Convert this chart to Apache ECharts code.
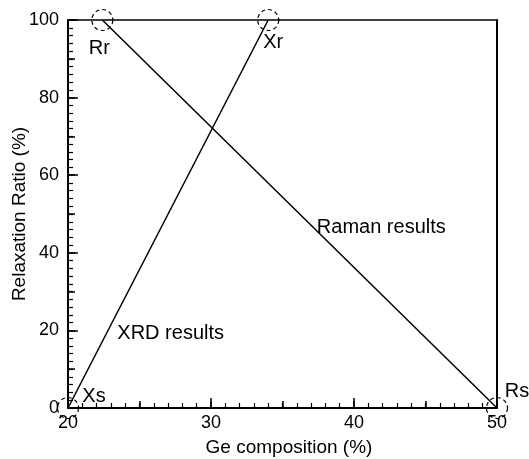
<!DOCTYPE html>
<html><head><meta charset="utf-8">
<script src="https://cdn.jsdelivr.net/npm/echarts@6/dist/echarts.min.js"></script>
<style>html,body{margin:0;padding:0;background:#fff}#c{width:529px;height:459px}</style>
</head><body><div id="c"></div>
<script>
// ---- data ----
const xTickMin = 20, xTickMax = 50, xTickStep = 10;
const yTickMin = 0, yTickMax = 100, yTickStep = 20;
const ramanX = [22.4, 50];
const ramanY = [100, 0];
const xrdX = [20, 34];
const xrdY = [0, 100];
const pointNames = ['Rr', 'Xr', 'Xs', 'Rs'];
const pointX = [22.4, 34, 20, 50];
const pointY = [100, 100, 0, 0];
const noteTexts = ['Raman results', 'XRD results'];
const noteX = [37.4, 23.45];
const noteY = [46.6, 19.3];
const xTitle = 'Ge composition (%)';
const yTitle = 'Relaxation Ratio (%)';

// ---- styles ----
const FONT = 'Liberation Sans, Arial, sans-serif';
const labelOffsets = { Rr: [-3, 28], Xr: [5, 22], Xs: [26, -12], Rs: [20, -17] };

const chart = echarts.init(document.getElementById('c'), null, { renderer: 'canvas' });
function xa(extra) {
  return Object.assign({ type: 'value', min: xTickMin, max: xTickMax, gridIndex: 0,
    splitLine: { show: false }, axisLabel: { show: false }, axisTick: { show: false },
    axisLine: { show: false } }, extra);
}
function ya(extra) {
  return Object.assign({ type: 'value', min: yTickMin, max: yTickMax, gridIndex: 0,
    splitLine: { show: false }, axisLabel: { show: false }, axisTick: { show: false },
    axisLine: { show: false } }, extra);
}
const option = {
  animation: false,
  grid: { left: 68, right: 32, top: 20, bottom: 51, containLabel: false, outerBoundsMode: 'none' },
  xAxis: [
    xa({ position: 'bottom', interval: xTickStep,
      axisLine: { show: true, onZero: false, lineStyle: { color: '#000', width: 2 } },
      axisTick: { show: true, inside: true, length: 10, lineStyle: { color: '#000', width: 1.5 } },
      minorTick: { show: true, splitNumber: 10, length: 5, lineStyle: { color: '#000', width: 1.2 } },
      axisLabel: { show: true, color: '#000', fontSize: 18, fontFamily: FONT, margin: 6 },
      name: xTitle, nameLocation: 'middle', nameGap: 30,
      nameTextStyle: { color: '#000', fontSize: 19, fontFamily: FONT, padding: [0, 0, 0, 13] } }),
    xa({ position: 'bottom', interval: 5,
      axisTick: { show: true, inside: true, length: 7, lineStyle: { color: '#000', width: 1.5 } } }),
    xa({ position: 'top', axisLine: { show: true, onZero: false, lineStyle: { color: '#000', width: 1.5 } } })
  ],
  yAxis: [
    ya({ position: 'left', interval: yTickStep,
      axisLine: { show: true, onZero: false, lineStyle: { color: '#000', width: 2 } },
      axisTick: { show: true, inside: true, length: 10, lineStyle: { color: '#000', width: 1.5 } },
      minorTick: { show: true, splitNumber: 10, length: 5, lineStyle: { color: '#000', width: 1.2 } },
      axisLabel: { show: true, color: '#000', fontSize: 18, fontFamily: FONT, margin: 9 },
      name: yTitle, nameLocation: 'middle', nameGap: 39, nameMoveOverlap: false,
      nameTextStyle: { color: '#000', fontSize: 19, fontFamily: FONT } }),
    ya({ position: 'left', interval: 10,
      axisTick: { show: true, inside: true, length: 7, lineStyle: { color: '#000', width: 1.5 } } }),
    ya({ position: 'right', axisLine: { show: true, onZero: false, lineStyle: { color: '#000', width: 2 } } })
  ],
  series: [
    { type: 'line', name: 'Raman', data: ramanX.map((x, i) => [x, ramanY[i]]),
      showSymbol: false, symbol: 'none', clip: false,
      lineStyle: { color: '#000', width: 1.5 } },
    { type: 'line', name: 'XRD', data: xrdX.map((x, i) => [x, xrdY[i]]),
      showSymbol: false, symbol: 'none', clip: false,
      lineStyle: { color: '#000', width: 1.5 } },
    { type: 'scatter', clip: false, symbol: 'circle', symbolSize: 21,
      data: pointNames.map((n, i) => ({ name: n, value: [pointX[i], pointY[i]],
        label: { offset: labelOffsets[n] } })),
      itemStyle: { color: 'rgba(0,0,0,0)', opacity: 1, borderColor: '#000', borderWidth: 1.2, borderType: [4, 3] },
      label: { show: true, position: 'inside', formatter: p => p.name, color: '#000',
        fontSize: 20, fontFamily: FONT },
      emphasis: { disabled: true }, z: 5 },
    { type: 'scatter', clip: false, symbolSize: 0,
      itemStyle: { opacity: 1 },
      data: noteTexts.map((t, i) => ({ name: t, value: [noteX[i], noteY[i]] })),
      label: { show: true, position: 'right', distance: 0, formatter: p => p.name, color: '#000',
        fontSize: 20, fontFamily: FONT },
      emphasis: { disabled: true } }
  ]
};
chart.setOption(option);
</script></body></html>
